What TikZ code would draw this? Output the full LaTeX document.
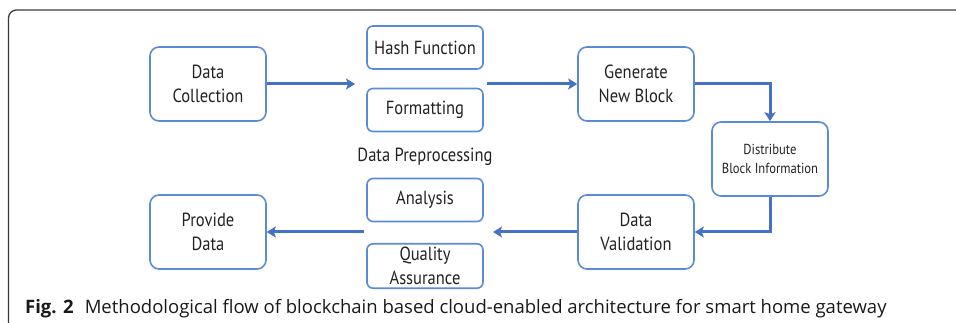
\documentclass[tikz,border=0pt]{standalone}
\usepackage{fontspec}
\setmainfont[FakeStretch=0.87]{PT Sans}
\newfontfamily\capfont{Open Sans}
\usetikzlibrary{arrows.meta}
\definecolor{boxblue}{HTML}{5B8BD6}
\definecolor{arrblue}{HTML}{4472C4}
\definecolor{frame}{HTML}{3A3A3A}
\definecolor{txt}{HTML}{222222}
\begin{document}
\begin{tikzpicture}[x=1pt,y=-1pt,
  box/.style={draw=boxblue,line width=1.6pt,rounded corners=9pt,minimum width=116pt,minimum height=74pt,align=center,font=\fontsize{19}{24}\selectfont,text=txt},
  sbox/.style={draw=boxblue,line width=1.6pt,rounded corners=6pt,minimum width=116pt,minimum height=43pt,align=center,font=\fontsize{19}{24}\selectfont,text=txt},
  flow/.style={draw=arrblue,line width=3pt,-{Stealth[length=9pt,width=11pt,inset=2pt]}}]
\useasboundingbox (0,0) rectangle (956,323);
\begin{scope}
\clip (0,0) rectangle (956,323);
\draw[frame,line width=1.3pt,rounded corners=8pt] (970,10) -- (8.5,10) -- (8.5,340);
\end{scope}
\node[box] (dc) at (208,84) {Data\\Collection};
\node[box] (pd) at (208,232) {Provide\\Data};
\node[box] (gb) at (636,84) {Generate\\New Block};
\node[box] (dv) at (636,232) {Data\\Validation};
\node[box,font=\fontsize{14.5}{19}\selectfont] (db) at (770,159) {Distribute\\Block Information};
\node[sbox] (hf) at (425,47.5) {Hash Function};
\node[sbox] (fm) at (425,110) {Formatting};
\node[sbox] (an) at (425,200) {Analysis};
\node[sbox] (qa) at (425,266) {Quality\\Assurance};
\node[font=\fontsize{19}{24}\selectfont,text=txt] (dp) at (425,157) {Data Preprocessing};
\coordinate (in1) at (355,84);
\coordinate (out1) at (487,84);
\coordinate (in2) at (493,232);
\coordinate (out2) at (364,232);
\draw[flow] (dc.east) -- (in1);
\draw[flow] (out1) -- (gb.west);
\draw[flow] (gb.east) -| (db.north);
\draw[flow] (db.south) |- (dv.east);
\draw[flow] (dv.west) -- (in2);
\draw[flow] (out2) -- (pd.east);
\node[anchor=base west,font=\capfont\fontsize{18.5}{20}\selectfont,inner sep=0pt,text=black!90] (cap) at (25,313) {\textbf{Fig. 2}\hspace{0.6em}Methodological flow of blockchain based cloud-enabled architecture for smart home gateway};
\end{tikzpicture}
\end{document}
